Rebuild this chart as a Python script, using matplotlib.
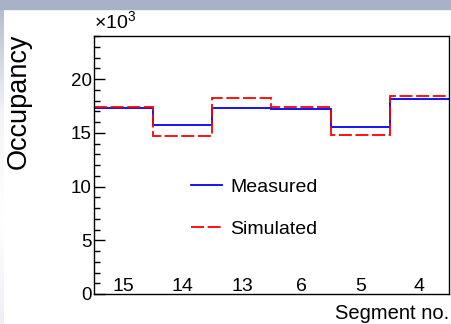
import matplotlib
matplotlib.use("Agg")
import matplotlib.pyplot as plt
import numpy as np
from matplotlib.ticker import MultipleLocator, FuncFormatter

plt.rcParams['font.family'] = ['Liberation Sans', 'DejaVu Sans']
plt.rcParams['mathtext.fontset'] = 'custom'
plt.rcParams['mathtext.rm'] = 'Liberation Sans'

# segment labels, one per bin
segments = ['15', '14', '13', '6', '5', '4']
measured = [17270, 15720, 17270, 17180, 15570, 18170]
simulated = [17420, 14730, 18260, 17420, 14820, 18420]

edges = np.arange(len(segments) + 1)
centers = edges[:-1] + 0.5

fig = plt.figure(figsize=(4.52, 3.24), dpi=100)

# screenshot frame: grey-blue band on top, faint strip on the left
fig.patches.append(plt.Rectangle((0, 1 - 9/324), 1, 9/324, transform=fig.transFigure,
                                 color='#a7b1c8', zorder=0))
gax = fig.add_axes([0, 0, 4/452, 1 - 9/324])
grad = np.linspace(0, 1, 100).reshape(-1, 1)
gax.imshow(grad, aspect='auto', cmap=matplotlib.colors.LinearSegmentedColormap.from_list(
    'g', ['#b4bed2', '#f4f5f8', '#ffffff', '#eef0f5']), extent=[0, 1, 0, 1])
gax.axis('off')

ax = fig.add_axes([94/452, 30/324, 355/452, 258/324])

ax.stairs(measured, edges, color='blue', lw=1.3, baseline=None, label='Measured')
ax.stairs(simulated, edges, color='red', lw=1.3, baseline=None,
          linestyle=(0, (7.2, 2.0)), label='Simulated')

ax.set_xlim(0, len(segments))
ax.set_ylim(0, 24000)

ax.yaxis.set_major_locator(MultipleLocator(5000))
ax.yaxis.set_minor_locator(MultipleLocator(1000))
ax.yaxis.set_major_formatter(FuncFormatter(lambda v, p: '%d' % (v / 1000)))
ax.tick_params(axis='y', which='major', direction='in', length=7.7, width=1, labelsize=13.5, pad=1.5)
ax.tick_params(axis='y', which='minor', direction='in', length=4, width=1)
ax.set_xticks([])

for c, s in zip(centers, segments):
    ax.text(c, 0.012, s, transform=ax.get_xaxis_transform(), ha='center', va='baseline',
            fontsize=14)

for sp in ax.spines.values():
    sp.set_linewidth(1.0)

ax.text(0, 1.01, r'$\times10^{3}$', transform=ax.transAxes, ha='left', va='bottom', fontsize=14)

fig.text(19/452, 1 - 101.5/324, 'Occupancy', rotation=90, ha='center', va='center', fontsize=19.5)
fig.text(449/452, 1 - 319/324, 'Segment no.', ha='right', va='baseline', fontsize=14.5)

ax.legend(loc='center left', bbox_to_anchor=(0.273, 0.333), frameon=False, fontsize=14,
          handlelength=1.6, handletextpad=0.42, labelspacing=1.25, borderpad=0, borderaxespad=0)

fig.savefig('out.png', dpi=100)
